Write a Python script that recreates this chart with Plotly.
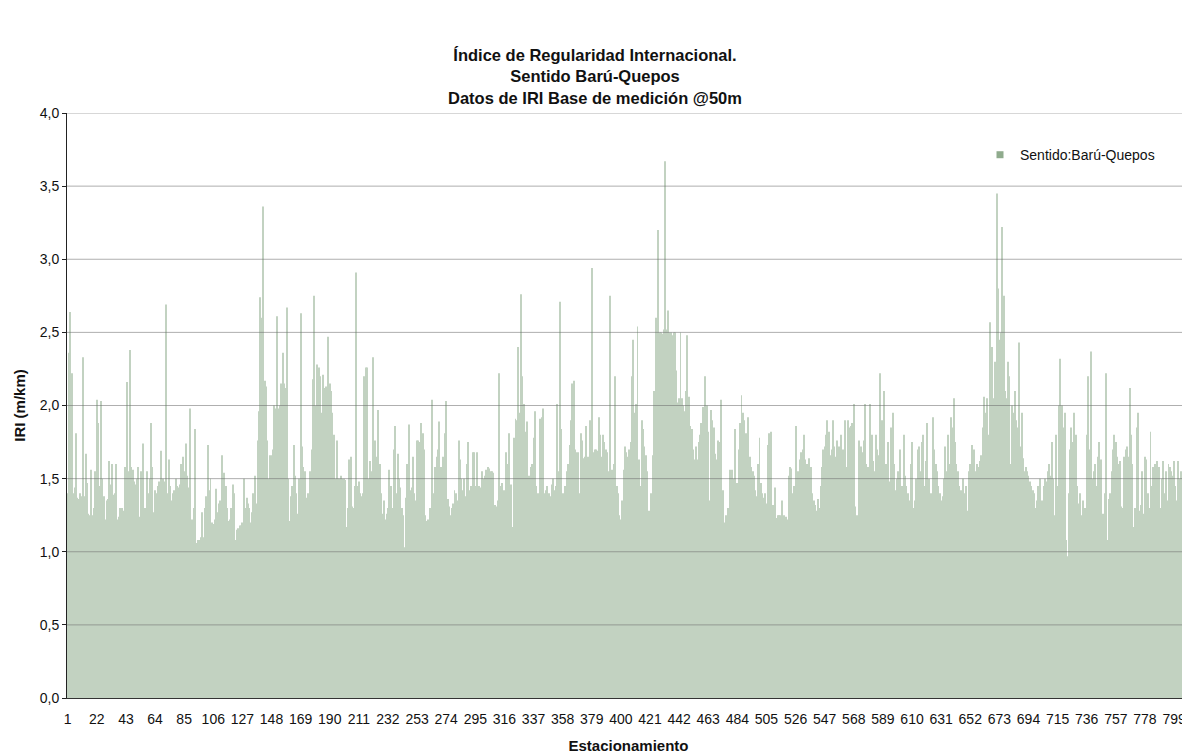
import plotly.graph_objects as go

# IRI values (m/km) per estacionamiento
iri = [
    1.40, 2.36, 2.64, 2.22, 1.40, 1.44, 1.81, 1.37, 1.36, 1.40,
    1.38, 2.33, 1.38, 1.67, 1.47, 1.26, 1.25, 1.56, 1.25, 1.30,
    1.55, 2.04, 1.88, 1.45, 2.03, 1.50, 1.38, 1.22, 1.35, 1.36,
    1.62, 1.46, 1.60, 1.39, 1.40, 1.60, 1.22, 1.24, 1.30, 1.30,
    1.28, 1.58, 1.50, 2.16, 1.55, 2.38, 1.58, 1.56, 1.48, 1.46,
    1.50, 1.58, 1.24, 1.55, 1.74, 1.25, 1.30, 1.55, 1.40, 1.50,
    1.88,
    1.58, 1.27, 1.42, 1.40, 1.45, 1.48, 1.69, 1.42, 1.50,
    1.48, 2.69, 1.40, 1.63, 1.45, 1.35, 1.40, 1.42, 1.50, 1.45,
    1.44, 1.46, 1.60, 1.65, 1.55, 1.74, 1.52, 1.44, 1.98, 1.21,
    1.22, 1.30, 1.84, 1.06, 1.08, 1.08, 1.10, 1.27, 1.10, 1.30,
    1.38, 1.73, 1.42, 1.50, 1.20, 1.19, 1.22, 1.43, 1.27, 1.33,
    1.35, 1.66, 1.40, 1.54, 1.45, 1.30, 1.21, 1.22, 1.30, 1.46,
    1.40, 1.08, 1.15, 1.16, 1.18, 1.18,
    1.20, 1.50, 1.30, 1.37, 1.33, 1.30, 1.20, 1.27, 1.40, 1.52,
    1.33, 1.76, 1.96, 2.74, 2.60, 3.36, 2.17, 2.13, 1.76, 1.50,
    1.66, 1.66, 1.70, 2.00, 1.98, 2.61, 1.98, 2.00, 2.15, 2.36,
    2.15, 2.12, 2.67, 1.50, 1.21, 1.38, 1.45, 1.73, 1.52, 1.40,
    1.26, 1.50, 2.63, 1.72, 1.58, 1.55, 1.37, 1.40, 1.37, 1.55,
    1.70, 2.18, 2.75, 2.00, 2.28, 2.26, 2.20, 1.95, 2.21, 2.12,
    2.13, 1.76, 2.47, 2.15, 2.10,
    1.95, 1.80, 1.50, 1.76, 1.50, 1.50, 1.52, 1.50, 1.50, 1.49,
    1.17, 1.30, 1.63, 1.65, 1.31, 1.30, 1.45, 2.91, 1.45, 1.48,
    1.40, 1.38, 1.40, 2.20, 2.26, 2.26, 1.50, 1.62, 1.55, 2.33,
    1.60, 1.76, 1.65, 1.97, 1.60, 1.40, 1.26, 1.35, 1.22, 1.26,
    1.30, 1.56, 1.45, 1.30, 1.70, 1.86, 1.40, 1.67, 1.50, 1.44,
    1.30, 1.25, 1.03, 1.37, 1.60, 1.87, 1.42, 1.44, 1.65, 1.40,
    1.35, 1.76, 1.76, 1.75, 1.88,
    1.81, 1.70, 1.25, 1.21, 1.22, 1.30, 1.21, 2.04, 1.40, 1.58,
    1.65, 1.70, 1.89, 1.58, 1.46, 1.65, 1.81, 2.03, 1.36, 1.31,
    1.25, 1.30, 1.33, 1.42, 1.40, 1.35, 1.76, 1.63, 1.50, 1.42,
    1.50, 1.38, 1.60, 1.75, 1.42, 1.45, 1.68, 1.68, 1.45, 1.68,
    1.30, 1.45, 1.44, 1.55, 1.50, 1.52, 1.56, 1.58, 1.57, 1.55,
    1.55, 1.54, 1.32, 1.31, 1.35, 2.22, 1.45, 1.47, 1.40, 1.42,
    1.68, 1.60, 1.81, 1.45, 1.46,
    1.17, 1.78, 1.91, 1.90, 2.40, 1.95, 2.76, 2.20, 2.01, 1.82,
    1.89, 1.50, 1.52, 1.58, 1.60, 1.78, 1.96, 1.45, 1.40, 1.38,
    1.91, 1.92, 1.98, 1.40, 1.42, 1.45, 1.40, 1.38, 1.46, 1.50,
    1.42, 1.45, 2.01, 1.55, 2.71, 1.84, 1.40, 1.38, 1.45, 1.55,
    1.60, 1.73, 1.90, 2.15, 2.17, 1.70, 1.68, 1.68, 1.40, 1.81,
    1.76, 1.64, 1.65, 1.86, 1.65, 1.52, 1.90, 2.94, 1.68, 1.70,
    1.70, 1.69, 1.92, 1.80, 1.65,
    1.80, 1.75, 1.70, 1.68, 1.55, 2.75, 1.56, 1.56, 1.60, 2.20,
    1.45, 1.40, 1.25, 1.22, 1.35, 1.56, 1.72, 1.68, 1.65, 1.70,
    1.75, 2.20, 2.45, 1.95, 2.01, 2.54, 1.63, 1.45, 1.90, 1.84,
    1.72, 1.66, 1.55, 1.28, 1.26, 1.40, 1.66, 2.10, 2.60, 2.52,
    3.20, 2.50, 2.50, 2.49, 2.52, 3.67, 2.52, 2.65, 2.50, 2.50,
    2.48, 2.50, 2.50, 2.24, 2.02, 2.05, 2.50, 2.05, 2.00, 1.96,
    2.10, 2.48, 2.06, 1.86, 1.84,
    1.70, 1.63, 1.72, 1.63, 1.75, 1.80, 1.88, 1.99, 1.70, 2.20,
    2.00, 1.82, 1.35, 1.97, 1.90, 1.85, 1.67, 1.63, 1.76, 1.75,
    2.04, 1.33, 1.42, 1.20, 1.25, 1.30, 1.27, 1.56, 1.56, 1.50,
    1.84, 1.45, 1.47, 1.70, 1.88, 2.07, 1.95, 1.90, 1.81, 1.76,
    1.92, 1.65, 1.58, 1.55, 1.52, 1.42, 1.38, 1.60, 1.78, 1.47,
    1.40, 1.37, 1.40, 1.33, 1.73, 1.81, 1.82, 1.30, 1.32, 1.44,
    1.23, 1.25, 1.25, 1.25,
    1.35, 1.20, 1.25, 1.24, 1.22, 1.52, 1.58, 1.57, 1.40, 1.45,
    1.86, 1.40, 1.55, 1.63, 1.68, 1.70, 1.80, 1.63, 1.60, 1.50,
    1.64, 1.58, 1.40, 1.35, 1.32, 1.28, 1.36, 1.30, 1.45, 1.58,
    1.70, 1.72, 1.80, 1.90, 1.82, 1.66, 1.70, 1.90, 1.72, 1.65,
    1.76, 1.72, 1.54, 1.80, 1.70, 1.61, 1.90, 1.58, 1.90, 1.85,
    1.86, 1.88, 2.01, 1.31, 1.25, 1.22, 1.76, 1.72, 1.68, 1.76,
    2.01, 1.60, 1.58, 1.55, 2.01, 1.80,
    1.62, 1.55, 1.80, 1.70, 1.66, 2.22, 1.90, 1.65, 2.10, 1.60,
    1.55, 1.75, 1.48, 1.85, 1.95, 1.60, 1.42, 1.50, 1.55, 1.70,
    1.38, 1.45, 1.80, 1.52, 1.45, 1.40, 1.35, 1.60, 1.75, 1.30,
    1.35, 1.50, 1.70, 1.72, 1.55, 1.75, 1.80, 1.45, 1.62, 1.88,
    1.50, 1.35, 1.40, 1.92, 1.70, 1.60, 1.55, 1.45, 1.40, 1.35,
    1.38, 1.50, 1.72, 1.55, 1.80, 1.60, 1.92, 1.85, 2.05, 1.75,
    1.60, 1.55, 1.45,
    1.42, 1.35, 1.50, 1.40, 1.45, 1.28, 1.55, 1.60, 1.73, 1.53,
    1.70, 1.55, 1.60, 1.58, 1.62, 1.66, 1.85, 2.06, 1.95, 2.05,
    1.80, 2.57, 2.20, 2.40, 2.05, 2.30, 3.45, 2.80, 2.45, 2.50,
    3.22, 2.75, 2.10, 2.05, 2.30, 2.20, 1.60, 2.00, 1.95, 2.10,
    1.90, 1.85, 2.43, 1.72, 1.95, 1.64, 1.55, 1.58, 1.55, 1.52,
    1.48, 1.45, 1.42, 1.40, 1.30, 1.35,
    1.45, 1.50, 1.13, 1.35, 1.45, 1.50, 1.48, 1.55, 1.60, 1.52,
    1.75, 1.50, 1.25, 1.80, 1.45, 2.00, 2.32, 2.00, 1.85, 1.95,
    1.08, 0.97, 1.40, 1.70, 1.85, 1.75, 1.95, 1.80, 1.45, 1.33,
    1.40, 1.25, 1.35, 1.24, 1.30, 1.80, 2.20, 1.70, 2.37, 1.50,
    1.55, 1.60, 1.45, 1.65, 1.75, 1.63, 1.25, 1.26, 1.40, 2.22,
    1.08, 1.36, 1.40, 1.55, 1.70, 1.80, 1.75, 1.65, 1.60, 1.62,
    1.31, 1.30, 1.65, 1.70, 1.72, 1.65, 2.12, 1.80, 1.60, 1.17,
    1.30, 1.85, 1.95, 1.28, 1.32, 1.55, 1.26, 1.65, 1.63, 1.40,
    1.30, 1.82, 1.45, 1.58, 1.60, 1.55, 1.62, 1.58, 1.30, 1.50,
    1.62, 1.40, 1.55, 1.35, 1.60, 1.58, 1.55, 1.52, 1.62, 1.45,
    1.35, 1.62, 1.50, 1.55, 1.40, 1.30, 1.58, 1.58, 1.60, 1.58,
]

estacion = list(range(1, len(iri) + 1))

x_tick_vals = list(range(1, 800, 21))
x_tick_text = [str(v) for v in x_tick_vals]

y_tick_vals = [0.0, 0.5, 1.0, 1.5, 2.0, 2.5, 3.0, 3.5, 4.0]
y_tick_text = ["0,0", "0,5", "1,0", "1,5", "2,0", "2,5", "3,0", "3,5", "4,0"]

series_name = "Sentido:Barú-Quepos"
title_lines = [
    "Índice de Regularidad Internacional.",
    "Sentido Barú-Quepos",
    "Datos de IRI Base de medición @50m",
]

BAR = "#c2d2c1"
FONT = "Liberation Sans, Arial, sans-serif"

# The page body has an 8px default margin; the figure is sized so that
# the visible 1190x754 window matches the reference layout.
W, H = 1182, 746

fig = go.Figure()
fig.add_trace(go.Bar(
    x=estacion, y=iri, name=series_name, showlegend=False,
    marker=dict(color=BAR, line=dict(width=0)),
))
fig.add_trace(go.Scatter(
    x=[None], y=[None], mode="markers", name=series_name,
    marker=dict(symbol="square", size=7, color="#8fab8d"),
))

shapes = []
for v in y_tick_vals[1:]:
    shapes.append(dict(type="line", xref="paper", yref="y", x0=0, x1=1, y0=v, y1=v,
                       line=dict(color="rgba(110,110,110,0.55)", width=1), layer="above"))

fig.update_layout(
    width=W, height=H,
    margin=dict(l=59, r=0, t=105, b=56, autoexpand=False),
    paper_bgcolor="#ffffff", plot_bgcolor="#ffffff",
    font=dict(family=FONT, size=14, color="#111111"),
    bargap=0.3,
    title=dict(
        text="<br>".join("<b>%s</b>" % t for t in title_lines),
        x=587 / W, xref="container", xanchor="center",
        y=1 - 53 / H, yref="container", yanchor="top",
        font=dict(family=FONT, size=16.5, color="#111111"),
    ),
    xaxis=dict(
        range=[0.5, len(iri) + 0.5],
        tickmode="array", tickvals=x_tick_vals, ticktext=x_tick_text,
        showgrid=False, zeroline=False, automargin=False,
        showline=True, linecolor="#333333", linewidth=1,
        ticks="", ticklabelstandoff=8,
        tickfont=dict(size=14),
        title=dict(text="<b>Estacionamiento</b>", font=dict(size=15), standoff=14),
    ),
    yaxis=dict(
        range=[0, 4.0],
        tickmode="array", tickvals=y_tick_vals, ticktext=y_tick_text,
        showgrid=False, zeroline=False, automargin=False,
        showline=True, linecolor="#222222", linewidth=1,
        ticks="outside", ticklen=4, tickcolor="#222222",
        tickfont=dict(size=14),
        title=dict(text="<b>IRI (m/km)</b>", font=dict(size=15), standoff=10),
    ),
    shapes=shapes,
    showlegend=True,
    legend=dict(
        x=0.813, y=0.928, xanchor="left", yanchor="middle",
        bgcolor="rgba(0,0,0,0)", font=dict(size=14),
        itemwidth=30,
    ),
)

fig.write_html("out.html")
